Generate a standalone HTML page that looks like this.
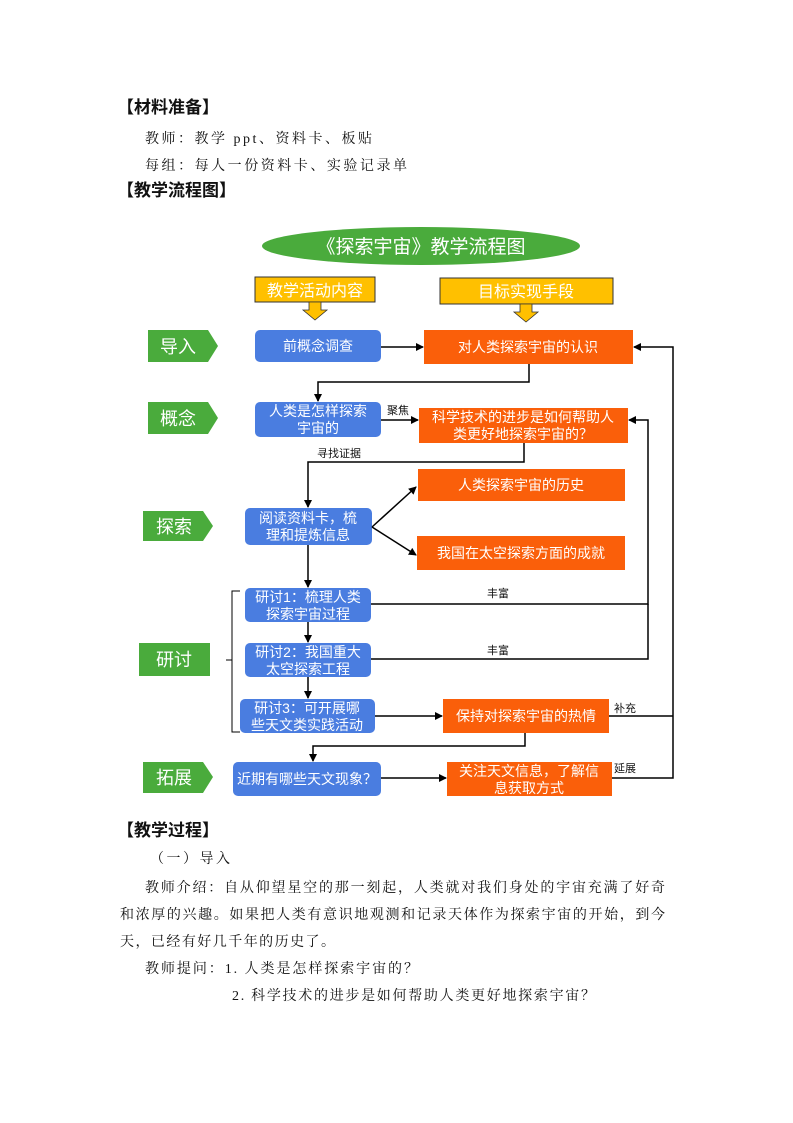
<!DOCTYPE html>
<html><head><meta charset="utf-8"><style>
html,body{margin:0;padding:0;background:#fff;}
svg{display:block;}
.s{font-family:"Liberation Serif","Noto Serif CJK SC",serif;fill:#111;}
.h{font-family:"Liberation Sans","Noto Sans CJK SC",sans-serif;font-weight:bold;fill:#111;}
.w{font-family:"Liberation Sans","Noto Sans CJK SC",sans-serif;fill:#fff;}
.k{font-family:"Liberation Sans","Noto Sans CJK SC",sans-serif;fill:#111;font-size:11px;}
</style></head><body>
<svg width="793" height="1123" viewBox="0 0 793 1123" xmlns="http://www.w3.org/2000/svg">
<defs>
<marker id="a" markerWidth="8" markerHeight="8" refX="7" refY="4" orient="auto" markerUnits="userSpaceOnUse"><path d="M0,0 L8,4 L0,8 z" fill="#000"/></marker>
</defs>
<text class="h" x="117" y="113" font-size="17">【材料准备】</text>
<text class="s" x="145" y="143" font-size="14" textLength="227">教师：教学 ppt、资料卡、板贴</text>
<text class="s" x="145" y="170" font-size="14" textLength="262">每组：每人一份资料卡、实验记录单</text>
<text class="h" x="117" y="196" font-size="17">【教学流程图】</text>

<ellipse cx="421" cy="246" rx="159" ry="19" fill="#4aab3c"/>
<text class="w" x="421" y="253" font-size="19" text-anchor="middle">《探索宇宙》教学流程图</text>

<rect x="255" y="277" width="120" height="25" fill="#ffc000" stroke="#333" stroke-width="1"/>
<text class="w" x="315" y="296" font-size="16" text-anchor="middle">教学活动内容</text>
<path d="M309,302 h12 v8 h6 l-12,10 l-12,-10 h6z" fill="#ffc000" stroke="#333" stroke-width="0.8"/>
<rect x="440" y="278" width="173" height="26" fill="#ffc000" stroke="#333" stroke-width="1"/>
<text class="w" x="526" y="297" font-size="16" text-anchor="middle">目标实现手段</text>
<path d="M520,304 h12 v8 h6 l-12,10 l-12,-10 h6z" fill="#ffc000" stroke="#333" stroke-width="0.8"/>

<path d="M148,330 h60 l10,16 l-10,16 h-60z" fill="#4aab3c"/>
<text class="w" x="178" y="353" font-size="18" text-anchor="middle">导入</text>
<path d="M148,402 h60 l10,16 l-10,16 h-60z" fill="#4aab3c"/>
<text class="w" x="178" y="425" font-size="18" text-anchor="middle">概念</text>
<path d="M143,511 h60 l10,15 l-10,15 h-60z" fill="#4aab3c"/>
<text class="w" x="174" y="533" font-size="18" text-anchor="middle">探索</text>
<rect x="139" y="643" width="71" height="33" fill="#4aab3c"/>
<text class="w" x="174" y="666" font-size="18" text-anchor="middle">研讨</text>
<path d="M143,762 h60 l10,15 l-10,16 h-60z" fill="#4aab3c"/>
<text class="w" x="174" y="784" font-size="18" text-anchor="middle">拓展</text>

<g fill="#4a7de0">
<rect x="255" y="330" width="126" height="32" rx="5"/>
<rect x="255" y="402" width="126" height="35" rx="5"/>
<rect x="245" y="508" width="127" height="37" rx="5"/>
<rect x="245" y="588" width="126" height="34" rx="5"/>
<rect x="245" y="643" width="126" height="34" rx="5"/>
<rect x="240" y="699" width="135" height="34" rx="5"/>
<rect x="233" y="762" width="148" height="34" rx="5"/>
</g>
<g class="w" font-size="14" text-anchor="middle">
<text x="318" y="351">前概念调查</text>
<text x="318" y="416">人类是怎样探索</text><text x="318" y="433">宇宙的</text>
<text x="308" y="523">阅读资料卡，梳</text><text x="308" y="540">理和提炼信息</text>
<text x="308" y="602">研讨1：梳理人类</text><text x="308" y="619">探索宇宙过程</text>
<text x="308" y="657">研讨2：我国重大</text><text x="308" y="674">太空探索工程</text>
<text x="307" y="713">研讨3：可开展哪</text><text x="307" y="730">些天文类实践活动</text>
<text x="307" y="784">近期有哪些天文现象？</text>
</g>

<g fill="#fa5f0a">
<rect x="424" y="330" width="209" height="34"/>
<rect x="419" y="408" width="209" height="35"/>
<rect x="418" y="469" width="207" height="32"/>
<rect x="417" y="536" width="208" height="34"/>
<rect x="443" y="699" width="166" height="34"/>
<rect x="447" y="762" width="165" height="34"/>
</g>
<g class="w" font-size="14" text-anchor="middle">
<text x="528" y="352">对人类探索宇宙的认识</text>
<text x="523" y="422">科学技术的进步是如何帮助人</text><text x="523" y="439">类更好地探索宇宙的？</text>
<text x="521" y="490">人类探索宇宙的历史</text>
<text x="521" y="558">我国在太空探索方面的成就</text>
<text x="526" y="721">保持对探索宇宙的热情</text>
<text x="529" y="776">关注天文信息，了解信</text><text x="529" y="793">息获取方式</text>
</g>

<g stroke="#000" stroke-width="1.5" fill="none">
<line x1="381" y1="347" x2="423" y2="347" marker-end="url(#a)"/>
<polyline points="529,364 529,382 318,382 318,401" marker-end="url(#a)"/>
<line x1="381" y1="420" x2="418" y2="420" marker-end="url(#a)"/>
<polyline points="524,443 524,462 308,462 308,507" marker-end="url(#a)"/>
<line x1="372" y1="527" x2="416" y2="487" marker-end="url(#a)"/>
<line x1="372" y1="527" x2="416" y2="555" marker-end="url(#a)"/>
<line x1="308" y1="545" x2="308" y2="587" marker-end="url(#a)"/>
<line x1="308" y1="622" x2="308" y2="642" marker-end="url(#a)"/>
<line x1="308" y1="677" x2="308" y2="698" marker-end="url(#a)"/>
<line x1="375" y1="716" x2="442" y2="716" marker-end="url(#a)"/>
<polyline points="525,733 525,746 313,746 313,761" marker-end="url(#a)"/>
<line x1="381" y1="778" x2="446" y2="778" marker-end="url(#a)"/>
<polyline points="371,604 648,604 648,420 629,420" marker-end="url(#a)"/>
<polyline points="371,659 648,659 648,604"/>
<polyline points="609,716 673,716"/>
<polyline points="612,778 673,778 673,347 634,347" marker-end="url(#a)"/>
<polyline points="240,591 232,591 232,732 240,732" stroke-width="1"/>
<line x1="232" y1="660" x2="226" y2="660" stroke-width="1"/>
</g>
<text class="k" x="387" y="414">聚焦</text>
<text class="k" x="317" y="457">寻找证据</text>
<text class="k" x="487" y="597">丰富</text>
<text class="k" x="487" y="654">丰富</text>
<text class="k" x="614" y="712">补充</text>
<text class="k" x="614" y="772">延展</text>

<text class="h" x="117" y="836" font-size="17">【教学过程】</text>
<text class="s" x="150" y="863" font-size="14" textLength="80">（一）导入</text>
<text class="s" x="145" y="892" font-size="14" textLength="520">教师介绍：自从仰望星空的那一刻起，人类就对我们身处的宇宙充满了好奇</text>
<text class="s" x="120" y="919" font-size="14" textLength="545">和浓厚的兴趣。如果把人类有意识地观测和记录天体作为探索宇宙的开始，到今</text>
<text class="s" x="120" y="946" font-size="14" textLength="215">天，已经有好几千年的历史了。</text>
<text class="s" x="145" y="973" font-size="14" textLength="273">教师提问：1. 人类是怎样探索宇宙的？</text>
<text class="s" x="232" y="1000" font-size="14" textLength="363">2. 科学技术的进步是如何帮助人类更好地探索宇宙？</text>
</svg>
</body></html>
